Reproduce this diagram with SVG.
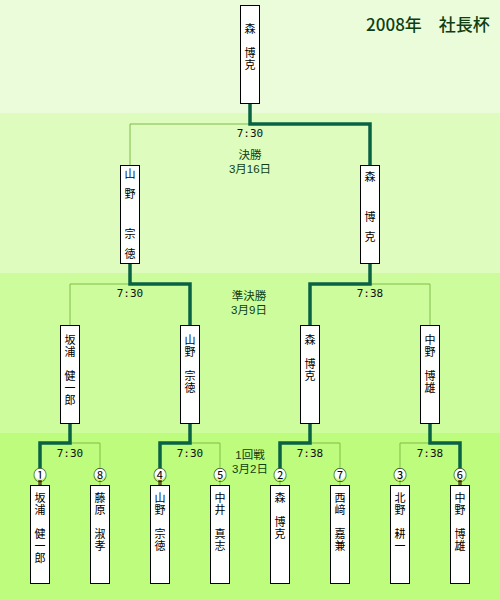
<svg xmlns="http://www.w3.org/2000/svg" width="500" height="600" viewBox="0 0 500 600">
<style>
.box{fill:#fff;stroke:#000;stroke-width:1}
.nm{font-family:"Noto Sans CJK JP","DejaVu Sans",sans-serif;font-size:11px;fill:#000;writing-mode:vertical-rl;letter-spacing:1px}
.wide{letter-spacing:9px}
.thin{fill:none;stroke:#80bb48;stroke-width:1}
.thick{fill:none;stroke:#0a6244;stroke-width:3.5;stroke-linejoin:miter}
.brn{fill:none;stroke:#5c5a1c;stroke-width:3.5}
.tm{font-family:"DejaVu Sans Mono","Liberation Mono",monospace;font-size:11px;fill:#111;text-anchor:middle;dominant-baseline:central}
.rd{font-family:"Liberation Sans","Noto Sans CJK JP",sans-serif;font-size:11.5px;fill:#0e3e12;text-anchor:middle;dominant-baseline:central}
.num{font-family:"Noto Sans CJK JP","DejaVu Sans",sans-serif;font-size:13.5px;fill:#000;text-anchor:middle;dominant-baseline:central}
.nc{fill:#fff}
</style>
<g id="background">
<rect x="0" y="0" width="500" height="113" fill="#ebfcda"/>
<rect x="0" y="113" width="500" height="160" fill="#ddfcbd"/>
<rect x="0" y="273" width="500" height="160" fill="#cdfc9d"/>
<rect x="0" y="433" width="500" height="167" fill="#bdfc7c"/>
</g>
<text id="title" x="428" y="23" font-family="Noto Sans CJK JP,DejaVu Sans,sans-serif" font-size="17px" font-weight="500" fill="#0e3e12" text-anchor="middle" dominant-baseline="central">2008年　社長杯</text>
<g id="connectors">
<path class="thin" d="M130 165V124H250"/>
<path class="thick" d="M250 104V124H370V165"/>
<path class="thin" d="M70 325V284H130"/>
<path class="thick" d="M130 264V284H190V325"/>
<path class="thin" d="M430 325V284H370"/>
<path class="thick" d="M370 264V284H310V325"/>
<path class="thin" d="M100 485V443H70"/>
<path class="thick" d="M40 468V443H70V424"/>
<path class="brn" d="M40 480V485"/>
<path class="thin" d="M220 485V443H190"/>
<path class="thick" d="M160 468V443H190V424"/>
<path class="brn" d="M160 480V485"/>
<path class="thin" d="M340 485V443H310"/>
<path class="thin" d="M280 480V485"/>
<path class="thick" d="M280 468V443H310V424"/>
<path class="thin" d="M400 485V443H430"/>
<path class="thick" d="M460 468V443H430V424"/>
<path class="brn" d="M460 480V485"/>
</g>
<g id="labels">
<text class="tm" x="250" y="133">7:30</text>
<text class="rd" x="250" y="155">決勝</text>
<text class="rd" x="250" y="169">3月16日</text>
<text class="tm" x="130" y="293">7:30</text>
<text class="tm" x="370" y="293">7:38</text>
<text class="rd" x="249" y="296">準決勝</text>
<text class="rd" x="249" y="310">3月9日</text>
<text class="tm" x="70" y="453">7:30</text>
<text class="tm" x="190" y="453">7:30</text>
<text class="tm" x="310" y="453">7:38</text>
<text class="tm" x="430" y="453">7:38</text>
<text class="rd" x="250" y="455">1回戦</text>
<text class="rd" x="250" y="469">3月2日</text>
</g>
<g id="champion">
<rect class="box" x="240.5" y="5.5" width="19" height="98"/>
<text class="nm" x="250" y="23.5">森　博克</text>
</g>
<g id="final-left">
<rect class="box" x="120.5" y="165.5" width="19" height="98"/>
<text class="nm wide" x="130" y="168.5">山野　宗徳</text>
</g>
<g id="final-right">
<rect class="box" x="360.5" y="165.5" width="19" height="98"/>
<text class="nm wide" x="370" y="171.5">森　博克</text>
</g>
<g id="semi-1">
<rect class="box" x="60.5" y="325.5" width="19" height="98"/>
<text class="nm" x="70" y="334.5">坂浦　健一郎</text>
</g>
<g id="semi-2">
<rect class="box" x="180.5" y="325.5" width="19" height="98"/>
<text class="nm" x="190" y="334.5">山野　宗徳</text>
</g>
<g id="semi-3">
<rect class="box" x="300.5" y="325.5" width="19" height="98"/>
<text class="nm" x="310" y="334.5">森　博克</text>
</g>
<g id="semi-4">
<rect class="box" x="420.5" y="325.5" width="19" height="98"/>
<text class="nm" x="430" y="334.5">中野　博雄</text>
</g>
<g id="p1">
<circle class="nc" cx="40" cy="474" r="5.5"/><text class="num" x="40" y="474">①</text>
<rect class="box" x="30.5" y="485.5" width="19" height="98"/>
<text class="nm" x="40" y="492.5">坂浦　健一郎</text>
</g>
<g id="p8">
<circle class="nc" cx="100" cy="474" r="5.5"/><text class="num" x="100" y="474">⑧</text>
<rect class="box" x="90.5" y="485.5" width="19" height="98"/>
<text class="nm" x="100" y="492.5">藤原　淑孝</text>
</g>
<g id="p4">
<circle class="nc" cx="160" cy="474" r="5.5"/><text class="num" x="160" y="474">④</text>
<rect class="box" x="150.5" y="485.5" width="19" height="98"/>
<text class="nm" x="160" y="492.5">山野　宗徳</text>
</g>
<g id="p5">
<circle class="nc" cx="220" cy="474" r="5.5"/><text class="num" x="220" y="474">⑤</text>
<rect class="box" x="210.5" y="485.5" width="19" height="98"/>
<text class="nm" x="220" y="492.5">中井　真志</text>
</g>
<g id="p2">
<circle class="nc" cx="280" cy="474" r="5.5"/><text class="num" x="280" y="474">②</text>
<rect class="box" x="270.5" y="485.5" width="19" height="98"/>
<text class="nm" x="280" y="492.5">森　博克</text>
</g>
<g id="p7">
<circle class="nc" cx="340" cy="474" r="5.5"/><text class="num" x="340" y="474">⑦</text>
<rect class="box" x="330.5" y="485.5" width="19" height="98"/>
<text class="nm" x="340" y="492.5">西﨑　嘉兼</text>
</g>
<g id="p3">
<circle class="nc" cx="400" cy="474" r="5.5"/><text class="num" x="400" y="474">③</text>
<rect class="box" x="390.5" y="485.5" width="19" height="98"/>
<text class="nm" x="400" y="492.5">北野　耕一</text>
</g>
<g id="p6">
<circle class="nc" cx="460" cy="474" r="5.5"/><text class="num" x="460" y="474">⑥</text>
<rect class="box" x="450.5" y="485.5" width="19" height="98"/>
<text class="nm" x="460" y="492.5">中野　博雄</text>
</g>
</svg>
